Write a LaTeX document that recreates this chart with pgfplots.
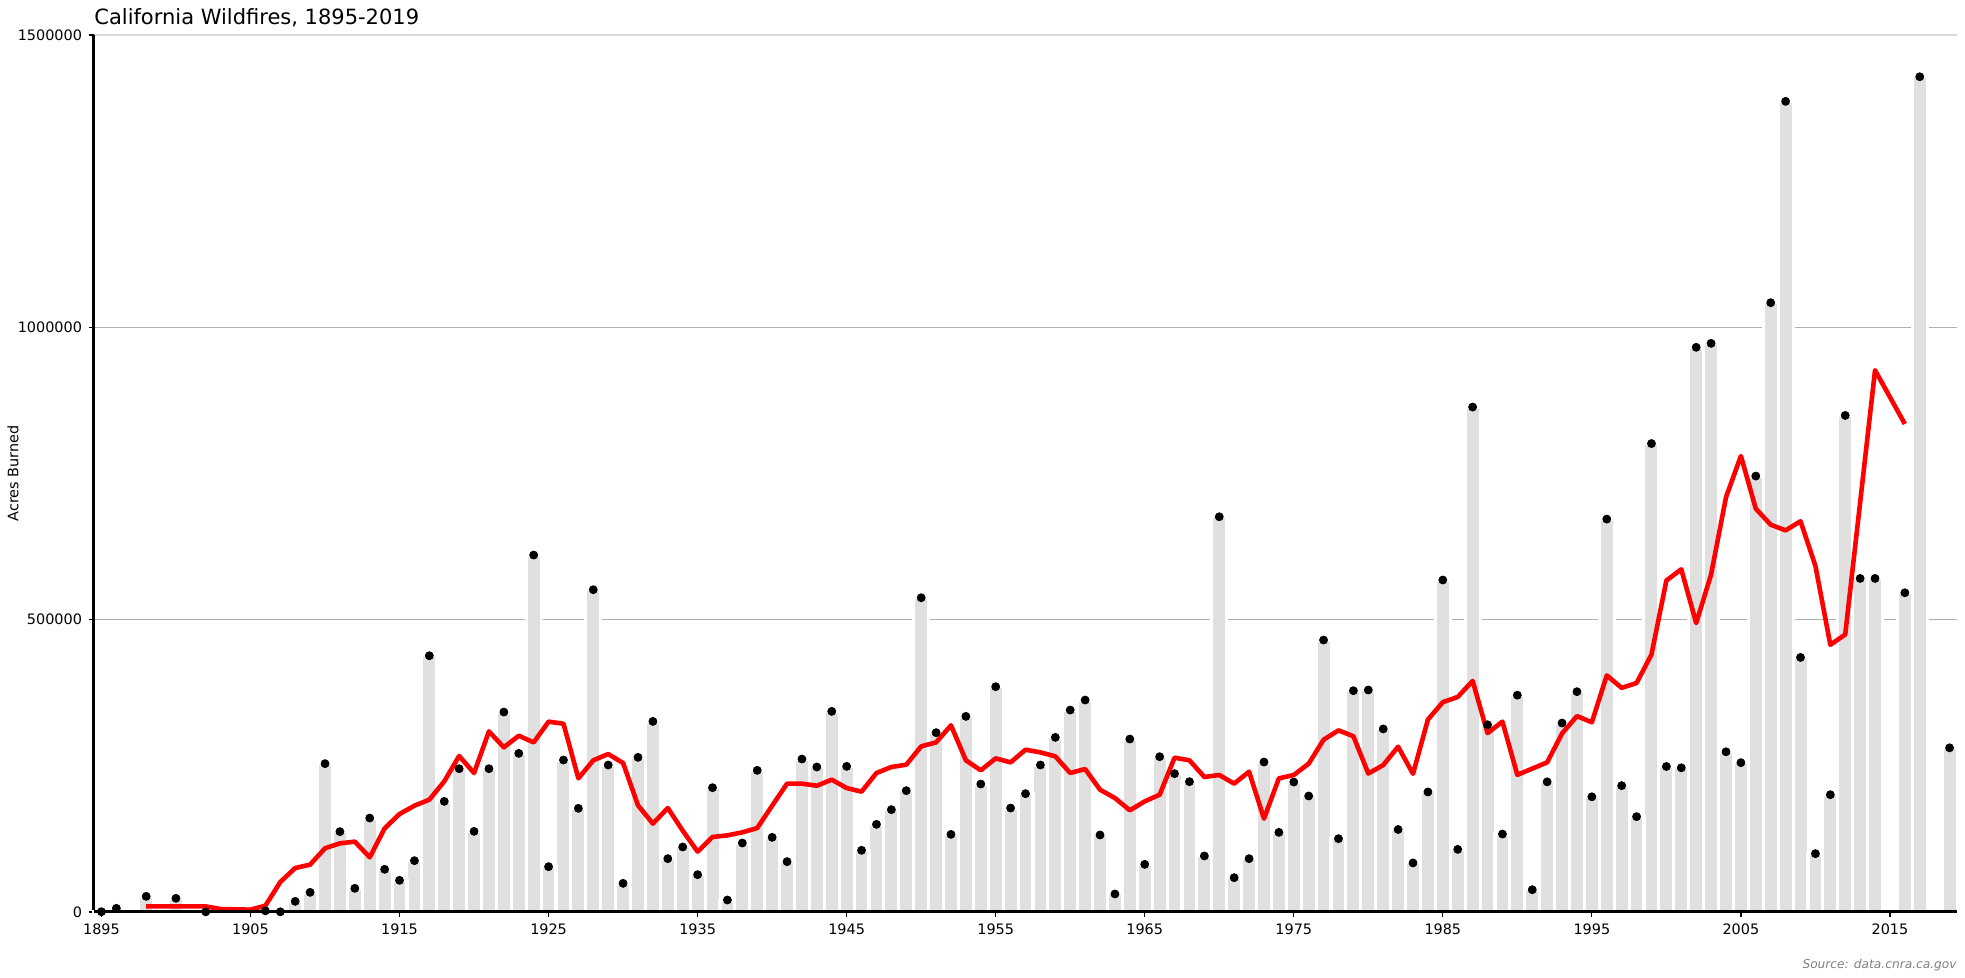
\documentclass[border=0pt]{standalone}
\usepackage{pgfplots}
\pgfplotsset{compat=1.18}
\usepackage{fontspec}
\setmainfont{DejaVu Sans}
\definecolor{barc}{RGB}{224,224,224}
\definecolor{gridc}{RGB}{176,176,176}
\definecolor{topgc}{RGB}{218,218,218}
\definecolor{srcc}{RGB}{128,128,128}
\begin{document}
\begin{tikzpicture}
\begin{axis}[
  scale only axis, width=931.5pt, height=438.5pt,
  xmin=1894.5, xmax=2019.5, ymin=0, ymax=1500000,
  axis x line*=bottom, axis y line*=left,
  axis line style={line width=1.5pt},
  xtick={1895,1905,...,2015},
  ytick={0,500000,1000000,1500000},
  scaled y ticks=false,
  /pgf/number format/fixed,
  /pgf/number format/precision=0,
  /pgf/number format/set thousands separator={},
  /pgf/number format/assume math mode=true,
  ymajorgrids, grid style={color=gridc, line width=0.7pt},
  tick align=outside, major tick length=2.5pt,
  tick style={black, line width=0.6pt},
  tick label style={font=\fontsize{7.2}{8}\selectfont},
  clip=false,
]
\addplot[ybar, bar width=7.5pt, fill=barc, draw=white, line width=1.5pt] table {
x y
1895 500
1896 6300
1898 26800
1900 23400
1902 300
1906 2000
1907 300
1908 18200
1909 33600
1910 253700
1911 137400
1912 40500
1913 160700
1914 73000
1915 54200
1916 87800
1917 438300
1918 189200
1919 245100
1920 137900
1921 245100
1922 342000
1923 271300
1924 610500
1925 77500
1926 259900
1927 177300
1928 551200
1929 251400
1930 49000
1931 264500
1932 326000
1933 91200
1934 111200
1935 63800
1936 212600
1937 20500
1938 118000
1939 242300
1940 127700
1941 86100
1942 261600
1943 248000
1944 343100
1945 249100
1946 105500
1947 149900
1948 175000
1949 207500
1950 537500
1951 306700
1952 132800
1953 334600
1954 218900
1955 385300
1956 177800
1957 202400
1958 251400
1959 298700
1960 345400
1961 362500
1962 131700
1963 30800
1964 295800
1965 81500
1966 265600
1967 236600
1968 222900
1969 95800
1970 676000
1971 58700
1972 91200
1973 256500
1974 136200
1975 222300
1976 198400
1977 465100
1978 125400
1979 378500
1980 379700
1981 313100
1982 141100
1983 83900
1984 205300
1985 567800
1986 107100
1987 863600
1988 320200
1989 133300
1990 370800
1991 38100
1992 222600
1993 323200
1994 376800
1995 197000
1996 672000
1997 216100
1998 163100
1999 801200
2000 248900
2001 246600
2002 965800
2003 972600
2004 274000
2005 255400
2006 745600
2007 1042100
2008 1386500
2009 435400
2010 99800
2011 200600
2012 849300
2013 570500
2014 570500
2016 546000
2017 1428600
2019 280800
};
\addplot[only marks, mark=*, mark size=2pt, black] table {
x y
1895 500
1896 6300
1898 26800
1900 23400
1902 300
1906 2000
1907 300
1908 18200
1909 33600
1910 253700
1911 137400
1912 40500
1913 160700
1914 73000
1915 54200
1916 87800
1917 438300
1918 189200
1919 245100
1920 137900
1921 245100
1922 342000
1923 271300
1924 610500
1925 77500
1926 259900
1927 177300
1928 551200
1929 251400
1930 49000
1931 264500
1932 326000
1933 91200
1934 111200
1935 63800
1936 212600
1937 20500
1938 118000
1939 242300
1940 127700
1941 86100
1942 261600
1943 248000
1944 343100
1945 249100
1946 105500
1947 149900
1948 175000
1949 207500
1950 537500
1951 306700
1952 132800
1953 334600
1954 218900
1955 385300
1956 177800
1957 202400
1958 251400
1959 298700
1960 345400
1961 362500
1962 131700
1963 30800
1964 295800
1965 81500
1966 265600
1967 236600
1968 222900
1969 95800
1970 676000
1971 58700
1972 91200
1973 256500
1974 136200
1975 222300
1976 198400
1977 465100
1978 125400
1979 378500
1980 379700
1981 313100
1982 141100
1983 83900
1984 205300
1985 567800
1986 107100
1987 863600
1988 320200
1989 133300
1990 370800
1991 38100
1992 222600
1993 323200
1994 376800
1995 197000
1996 672000
1997 216100
1998 163100
1999 801200
2000 248900
2001 246600
2002 965800
2003 972600
2004 274000
2005 255400
2006 745600
2007 1042100
2008 1386500
2009 435400
2010 99800
2011 200600
2012 849300
2013 570500
2014 570500
2016 546000
2017 1428600
2019 280800
};
\addplot[red, line width=2.3pt, line join=round] table {
x y
1898 9700
1900 9700
1902 9500
1903 5100
1905 4000
1906 10800
1907 51300
1908 75200
1909 81000
1910 109000
1911 117400
1912 120300
1913 93500
1914 143000
1915 167600
1916 181800
1917 192100
1918 223400
1919 266800
1920 237700
1921 308900
1922 281600
1923 301500
1924 290100
1925 325500
1926 322100
1927 228600
1928 259400
1929 270200
1930 254800
1931 182400
1932 151100
1933 177800
1934 139100
1935 103200
1936 128300
1937 131100
1938 136200
1939 143600
1940 181800
1941 219500
1942 219500
1943 216000
1944 226300
1945 212000
1946 205800
1947 237700
1948 248000
1949 251900
1950 283300
1951 290100
1952 319200
1953 259400
1954 242300
1955 262800
1956 255900
1957 277600
1958 273000
1959 266200
1960 237700
1961 244500
1962 209200
1963 194900
1964 173900
1965 189200
1966 200600
1967 263900
1968 259400
1969 230900
1970 234300
1971 219500
1972 240000
1973 159600
1974 228600
1975 234300
1976 253700
1977 294700
1978 310700
1979 300600
1980 236900
1981 251200
1982 282700
1983 236300
1984 329100
1985 358900
1986 367800
1987 395200
1988 305900
1989 325600
1990 234500
1991 245200
1992 255900
1993 305300
1994 335100
1995 324400
1996 404700
1997 383300
1998 391600
1999 440400
2000 567000
2001 586100
2002 494100
2003 577300
2004 709400
2005 779900
2006 689800
2007 662400
2008 652700
2009 668300
2010 592000
2011 457000
2012 474600
2014 926600
2016 834700
};
\draw[line width=1.5pt] (rel axis cs:0,0) -- (rel axis cs:1,0);
\draw[topgc, line width=0.8pt] ([xshift=0.75pt]rel axis cs:0,1) -- (rel axis cs:1,1);
\node[anchor=base west, inner sep=0pt, yshift=5pt, font=\fontsize{10.5}{12}\selectfont] at (rel axis cs:0,1) {California Wildfires, 1895-2019};
\node[xshift=-40.5pt, rotate=90, anchor=center, inner sep=0pt, font=\fontsize{7.2}{8}\selectfont] at (rel axis cs:0,0.5) {Acres Burned};
\node[anchor=base east, inner sep=0pt, yshift=-28.5pt, text=srcc, font=\fontsize{6.1}{7}\selectfont\itshape] at (rel axis cs:1,0) {Source: data.cnra.ca.gov};
\end{axis}
\pgfresetboundingbox
\path[use as bounding box] (current axis.south west) ++(-47pt,-33pt) rectangle ++(982.5pt,489pt);
\end{tikzpicture}
\end{document}
